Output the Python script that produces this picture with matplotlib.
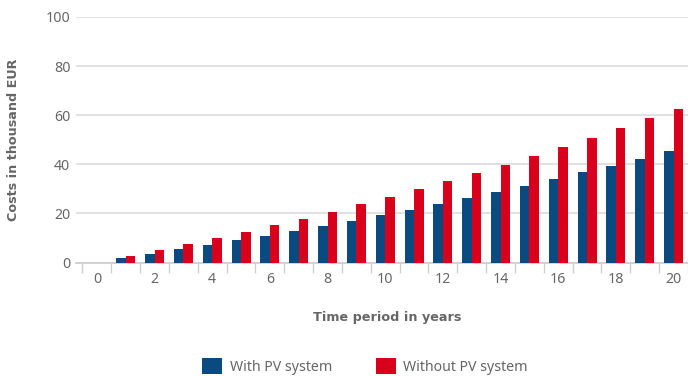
import numpy as np
import matplotlib
matplotlib.use("Agg")
import matplotlib.pyplot as plt

years = list(range(21))
with_pv = [0, 1.85, 3.6, 5.4, 7.25, 9.0, 10.8, 13.0, 14.9, 16.9, 19.2,
           21.5, 24.0, 26.3, 28.6, 31.2, 33.9, 36.7, 39.3, 42.2, 45.4]
without_pv = [0, 2.5, 4.9, 7.4, 9.8, 12.3, 15.2, 17.8, 20.7, 23.8, 26.8,
              29.9, 33.1, 36.5, 39.9, 43.5, 47.2, 50.9, 54.8, 58.7, 62.6]
labels = ["With PV system", "Without PV system"]

blue = "#0a4a80"
red = "#d9001b"
grey = "#666666"

plt.rcParams["font.family"] = ["Noto Sans", "DejaVu Sans"]

W, H = 688, 376
fig = plt.figure(figsize=(W / 100, H / 100), dpi=100)
# plot area in pixels: left 76, right 688 (clipped), top 17, bottom 262.5
ax = fig.add_axes([76 / W, 1 - 262.5 / H, (688 - 76) / W, (262.5 - 17) / H])

x = np.array(years)
bw = 0.33
b1 = ax.bar(x - bw / 2, with_pv, bw, color=blue, label=labels[0], zorder=3)
b2 = ax.bar(x + bw / 2, without_pv, bw, color=red, label=labels[1], zorder=3)

ax.set_xlim(-0.724, 20.38)
ax.set_ylim(0, 100)

ax.set_yticks(range(0, 101, 20))
ax.yaxis.grid(True, color="#dcdcdc", linewidth=1.2, zorder=0)
ax.tick_params(axis="y", length=0, pad=4, labelsize=10.2, labelcolor=grey)

ax.set_xticks(range(0, 21, 2))
ax.set_xticks(np.arange(-0.5, 21, 1), minor=True)
ax.tick_params(axis="x", which="major", length=0, pad=7, labelsize=10.2, labelcolor=grey)
ax.tick_params(axis="x", which="minor", length=7, width=1, color="#d0d0d0")

for s in ["top", "right", "left"]:
    ax.spines[s].set_visible(False)
ax.spines["bottom"].set_color("#cccccc")
ax.spines["bottom"].set_linewidth(1.2)

# bold labels in DejaVu (Noto Sans has no bold here)
ax.set_ylabel("Costs in thousand EUR", fontsize=9.2, fontweight="bold",
              color=grey, family="DejaVu Sans")
ax.yaxis.set_label_coords(-0.092, 0.5)
ax.set_xlabel("Time period in years", fontsize=9.2, fontweight="bold",
              color=grey, family="DejaVu Sans")
ax.xaxis.set_label_coords(0.508, -0.197)

fig.legend(handles=[b1, b2], loc="upper left",
           bbox_to_anchor=(202 / W, 1 - 358 / H), frameon=False,
           fontsize=10.2, labelcolor=grey, borderpad=0, borderaxespad=0,
           handlelength=1.4, handleheight=1.4, handletextpad=0.55,
           columnspacing=3.1, ncol=2)

fig.savefig("out.png", dpi=100)
